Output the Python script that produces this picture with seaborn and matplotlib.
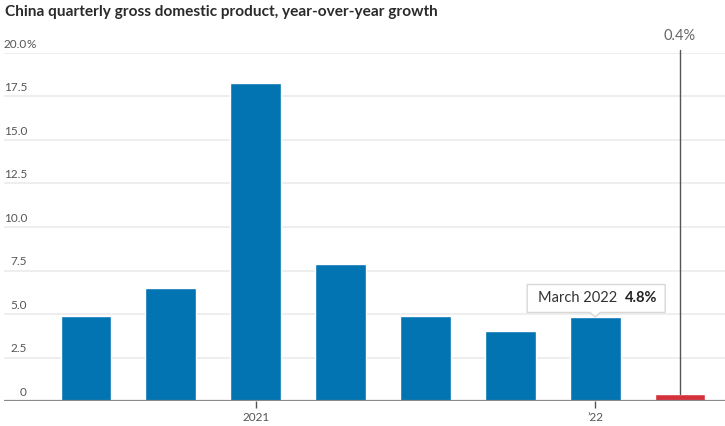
import matplotlib
matplotlib.use("Agg")
import matplotlib.pyplot as plt
import matplotlib.transforms as mtransforms
from matplotlib.patches import Polygon
import seaborn as sns
import pandas as pd

quarters = ["Q3 2020", "Q4 2020", "Q1 2021", "Q2 2021", "Q3 2021", "Q4 2021", "Q1 2022", "Q2 2022"]
growth = [4.9, 6.5, 18.3, 7.9, 4.9, 4.0, 4.8, 0.4]
bar_colors = ["#0274b2"] * 7 + ["#d5313d"]
y_ticks = [0, 2.5, 5.0, 7.5, 10.0, 12.5, 15.0, 17.5, 20.0]
y_tick_labels = ["0", "2.5", "5.0", "7.5", "10.0", "12.5", "15.0", "17.5", "20.0"]
x_tick_pos = [2, 6]
x_tick_labels = ["2021", "\u201922"]
title = "China quarterly gross domestic product, year-over-year growth"
callout_label = "March 2022"
callout_value = "4.8%"
latest_label = "0.4%"

sns.set_theme(style="white")
plt.rcParams["font.family"] = ["Lato", "DejaVu Sans"]

W, H = 725, 426
fig = plt.figure(figsize=(W / 100, H / 100), dpi=100)
ax = fig.add_axes([4 / W, (H - 401) / H, (W - 4) / W, (401 - 53) / H])

df = pd.DataFrame({"quarter": quarters, "growth": growth})
sns.barplot(data=df, x="quarter", y="growth", hue="quarter", palette=bar_colors,
            legend=False, width=0.6, ax=ax, saturation=1, zorder=3)

ax.set_xlim(-0.966, 7.53)
ax.set_ylim(0, 20)
for s in ax.spines.values():
    s.set_visible(False)

# gridlines
for t in y_ticks[1:]:
    ax.axhline(t, color="#ebebeb", lw=1.2, zorder=1)
ax.axhline(0, color="#8a8a8a", lw=1.6, zorder=4)

ax.set_yticks([])
ax.set_ylabel("")
ax.set_xlabel("")
lab_x = 27 / W
for t, lab in zip(y_ticks, y_tick_labels):
    yd = ax.transData.transform((0, t + 0.2))[1] / H
    fig.text(lab_x, yd, lab, ha="right", va="bottom", fontsize=8.5, color="#555555")
    if t == y_ticks[-1]:
        fig.text(lab_x, yd, "%", ha="left", va="bottom", fontsize=8.5, color="#555555")

ax.set_xticks(x_tick_pos)
ax.set_xticklabels(x_tick_labels, fontsize=8.5, color="#555555")
ax.tick_params(axis="x", length=5, width=1, color="#555555", pad=3, bottom=True)

# latest-value marker
last = len(growth) - 1
ax.plot([last, last], [growth[last], 20.2], color="#555555", lw=1, zorder=5, clip_on=False)
ax.text(last, 20.6, latest_label, ha="center", va="bottom", fontsize=10.5,
        color="#666666", clip_on=False)

fig.text(5 / W, 1 - 12 / H, title, fontsize=11.1, fontweight="bold", color="#2b2b2b",
         ha="left", va="center")

# callout
fig.canvas.draw()
idx = quarters.index("Q1 2022")
px, py = ax.transData.transform((idx, growth[idx]))
left, right = px - 68, px + 70
bottom, top = py + 5, py + 33
verts = [(left, bottom), (px - 5, bottom), (px, py + 0.5), (px + 5, bottom), (right, bottom),
         (right, top), (left, top)]
poly = Polygon(verts, closed=True, facecolor="white", edgecolor="#d8d8d8", lw=1,
               transform=mtransforms.IdentityTransform(), zorder=6)
fig.patches.append(poly)
poly.set_figure(fig)
fig.text((left + 11) / W, (bottom + top) / 2 / H, callout_label, fontsize=10.5,
         color="#333333", ha="left", va="center", zorder=7)
fig.text((right - 8) / W, (bottom + top) / 2 / H, callout_value, fontsize=10.5,
         color="#222222", fontweight="bold", ha="right", va="center", zorder=7)

fig.savefig("out.png", dpi=100)
